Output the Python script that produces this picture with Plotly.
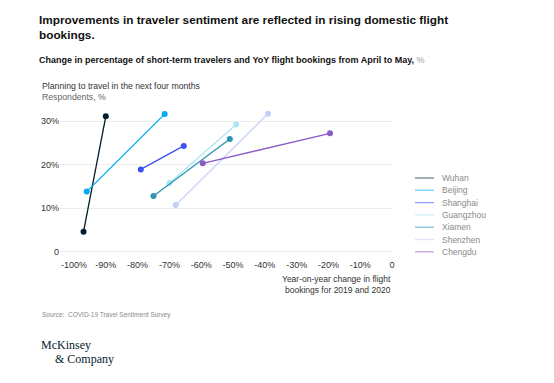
import plotly.graph_objects as go

cities = ["Wuhan", "Beijing", "Shanghai", "Guangzhou", "Xiamen", "Shenzhen", "Chengdu"]
colors = ["#051c2c", "#00a9f4", "#3c50f0", "#aae6f0", "#2b94b4", "#c3cdfa", "#8c5ac8"]
# x: YoY change in flight bookings (%), April -> May
bookings_apr = [-97, -96, -79, -70, -75, -68, -59.5]
bookings_may = [-90, -71.5, -65.5, -49, -51, -39, -19.5]
# y: respondents planning to travel in next four months (%)
travel_apr = [4.6, 13.8, 18.9, 15.8, 12.8, 10.7, 20.3]
travel_may = [31.1, 31.6, 24.3, 29.2, 25.9, 31.7, 27.2]

x_ticks = [-100, -90, -80, -70, -60, -50, -40, -30, -20, -10, 0]
x_ticklabels = ["-100%", "-90%", "-80%", "-70%", "-60%", "-50%", "-40%", "-30%", "-20%", "-10%", "0"]
y_ticks = [0, 10, 20, 30]
y_ticklabels = ["0", "10%", "20%", "30%"]

W, H = 554, 383
OFF = 8  # page body margin
L, R, T, B = 60, 393, 108, 253  # plot area in page pixels
FONT = "Liberation Sans"

def px(x):
    return (x - L) / (R - L)

def py(y):
    return (B - y) / (B - T)

fig = go.Figure()
for i, c in enumerate(cities):
    fig.add_trace(go.Scatter(
        x=[bookings_apr[i], bookings_may[i]],
        y=[travel_apr[i], travel_may[i]],
        mode="lines+markers",
        name=c,
        line=dict(color=colors[i], width=1.3),
        marker=dict(color=colors[i], size=6),
        showlegend=False,
        hoverinfo="name+x+y",
    ))

annotations = []
shapes = []
# legend
for i, c in enumerate(cities):
    yy = 178 + i * 12.3
    shapes.append(dict(type="line", xref="paper", yref="paper",
                       x0=px(415), x1=px(434), y0=py(yy), y1=py(yy),
                       line=dict(color=colors[i], width=1.3), opacity=0.55))
    annotations.append(dict(text=c, xref="paper", yref="paper", x=px(440), y=py(yy),
                            xanchor="left", yanchor="middle", showarrow=False,
                            font=dict(family=FONT, size=8.5, color="#8a8a8a")))

annotations += [
    dict(text="<b>Improvements in traveler sentiment are reflected in rising domestic flight<br>bookings.</b>",
         xref="paper", yref="paper", x=px(37), y=py(11), xanchor="left", yanchor="top",
         align="left", showarrow=False, font=dict(family=FONT, size=11.8, color="#111111")),
    dict(text="<b>Change in percentage of short-term travelers and YoY flight bookings from April to May,</b> <span style='color:#9a9a9a'>%</span>",
         xref="paper", yref="paper", x=px(37), y=py(60), xanchor="left", yanchor="middle",
         align="left", showarrow=False, font=dict(family=FONT, size=9, color="#111111")),
    dict(text="Planning to travel in the next four months",
         xref="paper", yref="paper", x=px(40), y=py(86), xanchor="left", yanchor="middle",
         showarrow=False, font=dict(family=FONT, size=8.7, color="#333333")),
    dict(text="Respondents, %",
         xref="paper", yref="paper", x=px(40), y=py(97), xanchor="left", yanchor="middle",
         showarrow=False, font=dict(family=FONT, size=8.7, color="#666666")),
    dict(text="Year-on-year change in flight<br>bookings for 2019 and 2020",
         xref="paper", yref="paper", x=px(393), y=py(272), xanchor="right", yanchor="top",
         align="right", showarrow=False, font=dict(family=FONT, size=8.5, color="#333333")),
    dict(text="Source:  COVID-19 Travel Sentiment Survey",
         xref="paper", yref="paper", x=px(40), y=py(315), xanchor="left", yanchor="middle",
         showarrow=False, font=dict(family=FONT, size=6.5, color="#8a8a8a")),
    dict(text="McKinsey", xref="paper", yref="paper", x=px(39), y=py(345), xanchor="left",
         yanchor="middle", showarrow=False,
         font=dict(family="Liberation Serif", size=12, color="#051c2c")),
    dict(text="&amp; Company", xref="paper", yref="paper", x=px(53), y=py(359), xanchor="left",
         yanchor="middle", showarrow=False,
         font=dict(family="Liberation Serif", size=12, color="#051c2c")),
]

fig.update_layout(
    width=W - OFF, height=H - OFF,
    margin=dict(l=L - OFF, r=W - R, t=T - OFF, b=H - B, pad=0),
    paper_bgcolor="white", plot_bgcolor="white",
    font=dict(family=FONT, size=9, color="#333333"),
    showlegend=False,
    annotations=annotations,
    shapes=shapes,
    xaxis=dict(range=[-104.4, 0.3], tickvals=x_ticks, ticktext=x_ticklabels,
               showgrid=False, zeroline=False, showline=False,
               ticks="outside", ticklen=3, tickcolor="rgba(0,0,0,0)",
               tickfont=dict(size=9, color="#333333")),
    yaxis=dict(range=[-0.3, 33], tickvals=y_ticks, ticktext=y_ticklabels,
               showgrid=True, gridcolor="#ececec", gridwidth=1, zeroline=False,
               showline=False, ticks="", tickfont=dict(size=9, color="#333333")),
)

fig.write_html("out.html")
